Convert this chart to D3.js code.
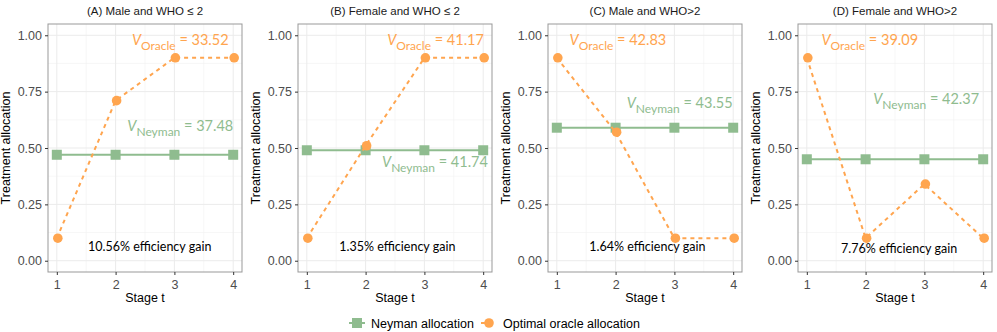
<!DOCTYPE html>
<html>
<head>
<meta charset="utf-8">
<script src="https://cdn.jsdelivr.net/npm/d3@7"></script>
<style>
  body { margin: 0; background: #fff; }
  svg { display: block; }
</style>
</head>
<body>
<div id="chart"></div>
<script>
// facet data
var panelTitles = ["(A) Male and WHO \u2264 2", "(B) Female and WHO \u2264 2", "(C) Male and WHO>2", "(D) Female and WHO>2"];
var stages = [1, 2, 3, 4];
var neyman = [0.47, 0.49, 0.59, 0.45];
var oracle = [
  [0.10, 0.71, 0.90, 0.90],
  [0.10, 0.51, 0.90, 0.90],
  [0.90, 0.57, 0.10, 0.10],
  [0.90, 0.10, 0.34, 0.10]
];
var vOracle = ["33.52", "41.17", "42.83", "39.09"];
var vNeyman = ["37.48", "41.74", "43.55", "42.37"];
var gains = ["10.56%", "1.35%", "1.64%", "7.76%"];
// annotation positions in data units [x, y]
var oraclePos = [[3.1, 0.97], [3.19, 0.97], [2.04, 0.97], [2.07, 0.97]];
var neymanPos = [[3.1, 0.59], [3.18, 0.43], [3.09, 0.69], [3.03, 0.71]];
var gainPos = [[2.58, 0.06], [2.54, 0.06], [2.54, 0.06], [2.57, 0.05]];
var yTicks = [0, 0.25, 0.5, 0.75, 1];
var legendLabels = ["Neyman allocation", "Optimal oracle allocation"];

var W = 997, H = 332;
var panelW = 250;
var margin = {top: 24, left: 48, right: 8, bottom: 60};
var orange = "#FFA54F", green = "#8FBC8F";

var svg = d3.select("#chart").append("svg")
  .attr("width", W).attr("height", H)
  .style("font-family", "'Liberation Sans', Arial, sans-serif");

var x = d3.scaleLinear().domain([0.85, 4.15]).range([0, 194]);
var y = d3.scaleLinear().domain([-0.05, 1.05]).range([248, 0]);

panelTitles.forEach(function(title, p) {
  var g = svg.append("g").attr("transform", "translate(" + (p * panelW + margin.left) + "," + margin.top + ")");

  // grid
  var minorX = [1.5, 2.5, 3.5], minorY = [0.125, 0.375, 0.625, 0.875];
  g.selectAll(".gminx").data(minorX).enter().append("line")
    .attr("x1", d => x(d)).attr("x2", d => x(d)).attr("y1", 0).attr("y2", 248)
    .attr("stroke", "#f2f2f2").attr("stroke-width", 0.6);
  g.selectAll(".gminy").data(minorY).enter().append("line")
    .attr("x1", 0).attr("x2", 194).attr("y1", d => y(d)).attr("y2", d => y(d))
    .attr("stroke", "#f2f2f2").attr("stroke-width", 0.6);
  g.selectAll(".gx").data(stages).enter().append("line")
    .attr("x1", d => x(d)).attr("x2", d => x(d)).attr("y1", 0).attr("y2", 248)
    .attr("stroke", "#ebebeb").attr("stroke-width", 1);
  g.selectAll(".gy").data(yTicks).enter().append("line")
    .attr("x1", 0).attr("x2", 194).attr("y1", d => y(d)).attr("y2", d => y(d))
    .attr("stroke", "#ebebeb").attr("stroke-width", 1);

  // neyman line + squares
  g.append("path")
    .datum(stages)
    .attr("d", d3.line().x(d => x(d)).y(() => y(neyman[p])))
    .attr("fill", "none").attr("stroke", green).attr("stroke-width", 2);
  g.selectAll(".sq").data(stages).enter().append("rect")
    .attr("x", d => x(d) - 5).attr("y", y(neyman[p]) - 5)
    .attr("width", 10).attr("height", 10).attr("fill", green);

  // oracle dashed line + circles
  g.append("path")
    .datum(oracle[p])
    .attr("d", d3.line().x((d, i) => x(stages[i])).y(d => y(d)))
    .attr("fill", "none").attr("stroke", orange).attr("stroke-width", 2)
    .attr("stroke-dasharray", "4,4");
  g.selectAll(".pt").data(oracle[p]).enter().append("circle")
    .attr("cx", (d, i) => x(stages[i]) + 1).attr("cy", d => y(d))
    .attr("r", 4.8).attr("fill", orange);

  // annotations
  function vlabel(pos, sub, val, col) {
    var t = g.append("text")
      .attr("x", x(pos[0])).attr("y", y(pos[1]) + 3)
      .attr("text-anchor", "middle")
      .attr("fill", col)
      .style("font-family", "Lato, 'Open Sans', sans-serif")
      .style("font-size", "14.5px");
    t.append("tspan").text("V").style("font-style", "italic");
    t.append("tspan").text(sub).attr("dy", 5).style("font-size", "12px");
    t.append("tspan").text(" = " + val).attr("dy", -5);
  }
  vlabel(oraclePos[p], "Oracle", vOracle[p], orange);
  vlabel(neymanPos[p], "Neyman", vNeyman[p], green);

  g.append("text")
    .attr("x", x(gainPos[p][0])).attr("y", y(gainPos[p][1]) + 4)
    .attr("text-anchor", "middle").attr("fill", "#000")
    .style("font-family", "Lato, 'Open Sans', sans-serif")
    .style("font-size", "12.5px")
    .text(gains[p] + " efficiency gain");

  // border
  g.append("rect").attr("width", 194).attr("height", 248)
    .attr("fill", "none").attr("stroke", "#999").attr("stroke-width", 1);

  // axes
  var ax = g.append("g").attr("transform", "translate(0,248)")
    .call(d3.axisBottom(x).tickValues(stages).tickFormat(d3.format("d")).tickSize(3).tickSizeOuter(0));
  ax.select(".domain").remove();
  ax.selectAll("line").attr("stroke", "#333");
  ax.selectAll("text").attr("fill", "#4d4d4d").style("font-size", "12.5px").attr("dy", "0.85em");

  var ay = g.append("g")
    .call(d3.axisLeft(y).tickValues(yTicks).tickFormat(d3.format(".2f")).tickSize(3).tickSizeOuter(0));
  ay.select(".domain").remove();
  ay.selectAll("line").attr("stroke", "#333");
  ay.selectAll("text").attr("fill", "#4d4d4d").style("font-size", "12.5px");

  // titles
  g.append("text").attr("x", 97).attr("y", -9).attr("text-anchor", "middle")
    .style("font-size", "11.5px").attr("fill", "#1a1a1a").text(title);
  g.append("text").attr("x", 97).attr("y", 278).attr("text-anchor", "middle")
    .style("font-size", "12.5px").attr("fill", "#000").text("Stage t");
  g.append("text").attr("transform", "rotate(-90)")
    .attr("x", -124).attr("y", -38).attr("text-anchor", "middle")
    .style("font-size", "12.5px").attr("fill", "#000").text("Treatment allocation");
});

// legend
var lg = svg.append("g").attr("transform", "translate(0,323)");
var lx = [357, 489];
var lcols = [green, orange];
legendLabels.forEach(function(lab, i) {
  lg.append("line").attr("x1", lx[i] - 8).attr("x2", lx[i] + 8).attr("y1", 0).attr("y2", 0)
    .attr("stroke", lcols[i]).attr("stroke-width", 2)
    .attr("stroke-dasharray", i === 1 ? "4,4" : null);
  if (i === 0) {
    lg.append("rect").attr("x", lx[i] - 5).attr("y", -5).attr("width", 10).attr("height", 10).attr("fill", green);
  } else {
    lg.append("circle").attr("cx", lx[i]).attr("cy", 0).attr("r", 4.8).attr("fill", orange);
  }
  lg.append("text").attr("x", lx[i] + 14).attr("y", 4.5)
    .style("font-size", "12.5px").attr("fill", "#000").text(lab);
});
</script>
</body>
</html>
